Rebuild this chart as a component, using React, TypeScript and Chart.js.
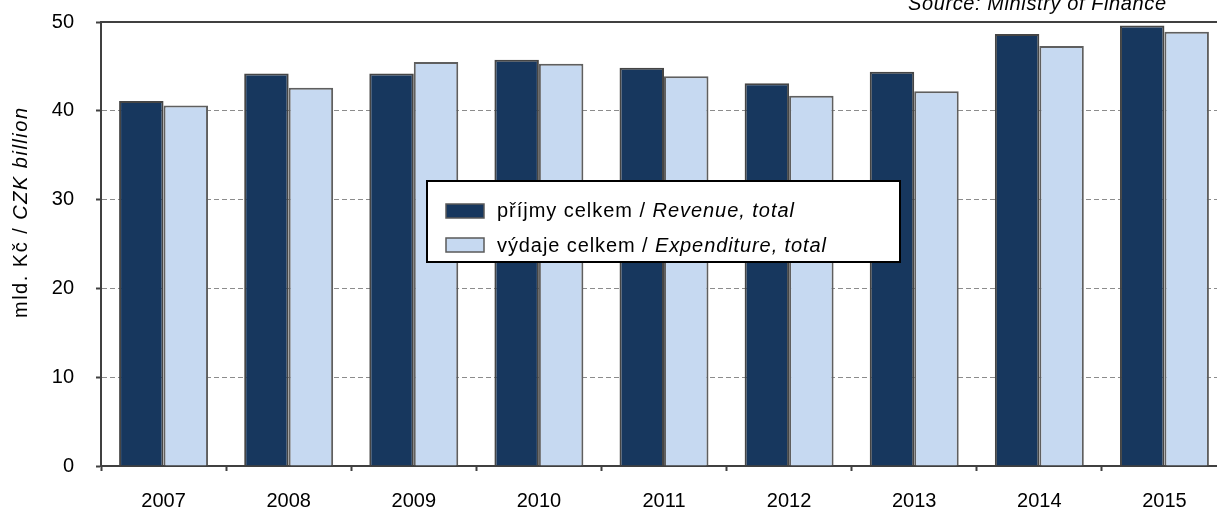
import React, { useEffect, useRef } from "react";
import { Chart, registerables } from "chart.js";

Chart.register(...registerables);

const years = ["2007", "2008", "2009", "2010", "2011", "2012", "2013", "2014", "2015"];
const revenue = [41.1, 44.2, 44.2, 45.75, 44.85, 43.1, 44.4, 48.65, 49.6];
const expenditure = [40.6, 42.6, 45.5, 45.3, 43.9, 41.7, 42.2, 47.3, 48.9];
const yMin = 0;
const yMax = 50;
const yStep = 10;

const revenueLabel = [
  { text: "příjmy celkem / ", italic: false },
  { text: "Revenue, total", italic: true },
];
const expenditureLabel = [
  { text: "výdaje celkem / ", italic: false },
  { text: "Expenditure, total", italic: true },
];
const axisTitle = [
  { text: "mld. Kč / ", italic: false },
  { text: "CZK billion", italic: true },
];
const sourceText = [{ text: "Source: Ministry of Finance", italic: true }];

const FONT = "'Liberation Sans', Arial, sans-serif";
const DARK = "#17375E";
const LIGHT = "#C6D9F1";

type Seg = { text: string; italic: boolean };

function drawSpaced(
  ctx: CanvasRenderingContext2D,
  segs: Seg[],
  x: number,
  y: number,
  size: number,
  targetWidth: number
) {
  let natural = 0;
  let count = 0;
  for (const s of segs) {
    ctx.font = `${s.italic ? "italic " : ""}${size}px ${FONT}`;
    for (const ch of Array.from(s.text)) {
      natural += ctx.measureText(ch).width;
      count++;
    }
  }
  const sp = count > 1 ? (targetWidth - natural) / (count - 1) : 0;
  let cx = x;
  for (const s of segs) {
    ctx.font = `${s.italic ? "italic " : ""}${size}px ${FONT}`;
    for (const ch of Array.from(s.text)) {
      ctx.fillText(ch, cx, y);
      cx += ctx.measureText(ch).width + sp;
    }
  }
}

const decor = {
  id: "decor",
  afterDraw(chart: any) {
    const ctx: CanvasRenderingContext2D = chart.ctx;
    const a = chart.chartArea;
    ctx.save();
    // plot frame (top & right)
    ctx.strokeStyle = "#404040";
    ctx.lineWidth = 2;
    ctx.beginPath();
    ctx.moveTo(a.left, a.top);
    ctx.lineTo(a.right, a.top);
    ctx.lineTo(a.right, a.bottom);
    ctx.stroke();

    ctx.fillStyle = "#000";
    ctx.textAlign = "left";
    ctx.textBaseline = "alphabetic";
    // source note
    drawSpaced(ctx, sourceText, 908, 10, 20, 258);

    // y-axis title
    ctx.save();
    ctx.translate(27, 318);
    ctx.rotate(-Math.PI / 2);
    drawSpaced(ctx, axisTitle, 0, 0, 20, 210);
    ctx.restore();

    // legend box
    ctx.fillStyle = "#fff";
    ctx.fillRect(427, 181, 473, 81);
    ctx.strokeStyle = "#000";
    ctx.lineWidth = 2;
    ctx.strokeRect(427, 181, 473, 81);

    ctx.lineWidth = 1.5;
    ctx.strokeStyle = "#5a5a5a";
    ctx.fillStyle = DARK;
    ctx.fillRect(446, 204, 38, 14);
    ctx.strokeRect(446, 204, 38, 14);
    ctx.fillStyle = LIGHT;
    ctx.fillRect(446, 238, 38, 14);
    ctx.strokeRect(446, 238, 38, 14);

    ctx.fillStyle = "#000";
    drawSpaced(ctx, revenueLabel, 497, 217, 20, 297);
    drawSpaced(ctx, expenditureLabel, 497, 252, 20, 329);
    ctx.restore();
  },
};

export default function App() {
  const ref = useRef<HTMLCanvasElement | null>(null);

  useEffect(() => {
    if (!ref.current) return;
    const chart = new Chart(ref.current, {
      type: "bar",
      data: {
        labels: years,
        datasets: [
          {
            label: "příjmy celkem / Revenue, total",
            data: revenue,
            backgroundColor: DARK,
            borderColor: "#454545",
            borderWidth: 2,
            categoryPercentage: 0.711,
            barPercentage: 1,
          },
          {
            label: "výdaje celkem / Expenditure, total",
            data: expenditure,
            backgroundColor: LIGHT,
            borderColor: "#5f5f5f",
            borderWidth: 2,
            categoryPercentage: 0.711,
            barPercentage: 1,
          },
        ],
      },
      options: {
        responsive: false,
        animation: false,
        devicePixelRatio: 1,
        layout: { padding: { top: 22, left: 0, right: 0, bottom: 0 } },
        plugins: {
          legend: { display: false },
          tooltip: { enabled: false },
          title: { display: false },
        },
        scales: {
          x: {
            grid: {
              display: true,
              drawOnChartArea: false,
              drawTicks: true,
              tickLength: 5,
              tickColor: "#404040",
              tickWidth: 2,
              offset: true,
            },
            border: { display: true, color: "#404040", width: 2 },
            ticks: {
              font: { family: FONT, size: 20 },
              color: "#000",
              padding: 18,
              maxRotation: 0,
            },
            afterFit: (s: any) => {
              s.height = 44;
              s.paddingLeft = 0;
              s.paddingRight = 0;
            },
          },
          y: {
            min: yMin,
            max: yMax,
            ticks: {
              stepSize: yStep,
              font: { family: FONT, size: 20 },
              color: "#000",
              padding: 22,
            },
            grid: {
              color: (c: any) =>
                c.tick && (c.tick.value === yMin || c.tick.value === yMax)
                  ? "rgba(0,0,0,0)"
                  : "#8c8c8c",
              lineWidth: 1,
              tickLength: 5,
              tickColor: "#404040",
              tickWidth: 2,
            },
            border: { display: true, color: "#404040", width: 2, dash: [5, 3] },
            afterFit: (s: any) => {
              s.width = 101;
              s.paddingTop = 0;
              s.paddingBottom = 0;
            },
          },
        },
      },
      plugins: [decor],
    });
    return () => chart.destroy();
  }, []);

  return (
    <div
      style={{
        position: "fixed",
        left: 0,
        top: 0,
        width: 1217,
        height: 510,
        overflow: "hidden",
        background: "#fff",
      }}
    >
      <canvas ref={ref} width={1227} height={510} style={{ display: "block" }} />
    </div>
  );
}
